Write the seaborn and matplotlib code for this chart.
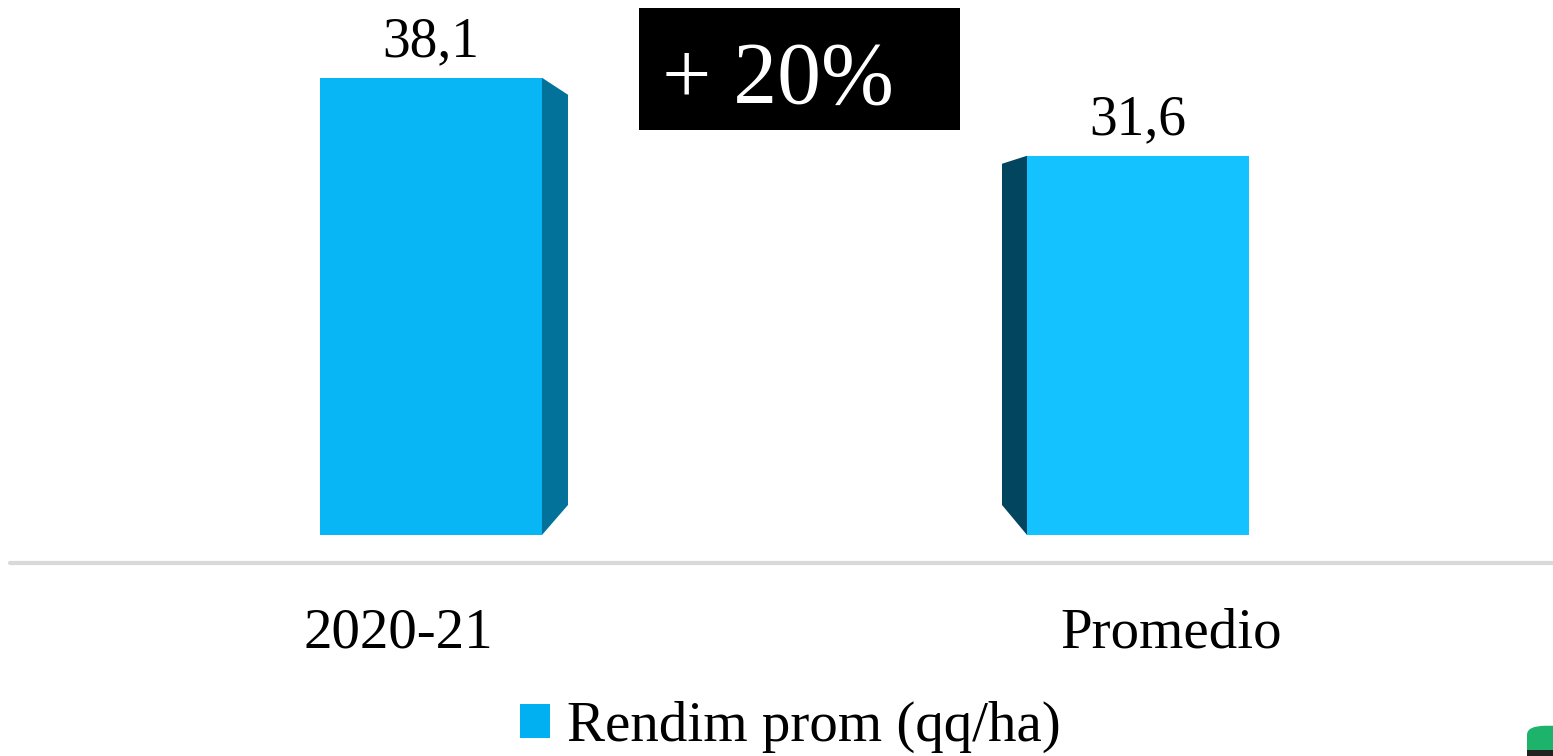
import pandas as pd
import seaborn as sns
import matplotlib.pyplot as plt
from matplotlib.patches import Polygon, Patch, Rectangle, FancyBboxPatch

# datos
categorias = ['2020-21', 'Promedio']
rendimiento = [38.1, 31.6]
etiquetas_valor = ['38,1', '31,6']
serie = 'Rendim prom (qq/ha)'

sns.set_style('white')
plt.rcParams['font.family'] = ['Liberation Serif', 'DejaVu Serif']
plt.rcParams['text.color'] = 'black'

fig = plt.figure(figsize=(15.53, 7.56), dpi=100)
ax = fig.add_axes([0, 0, 1, 1])

df = pd.DataFrame({'cat': categorias, 'val': rendimiento})
sns.barplot(data=df, x='cat', y='val', hue='cat', palette=['#08B5F5', '#14C2FF'],
            width=0.314, saturation=1, legend=False, ax=ax)

ax.set_xlim(-0.6096, 1.587)
ax.set_ylim(-18.42, 44.58)
ax.axis('off')

px_x = 1 / 707   # una unidad de pixel en x
px_y = 1 / 12    # una unidad de pixel en y

bars = sorted(ax.patches, key=lambda p: p.get_x())
for i, p in enumerate(bars):
    p.set_edgecolor('none')
    x0, x1, h = p.get_x(), p.get_x() + p.get_width(), p.get_height()
    # cara lateral (efecto 3D)
    if i == 0:
        pts = [(x1, h), (x1 + 26 * px_x, h - 17 * px_y), (x1 + 26 * px_x, 30 * px_y), (x1, 0)]
        col = '#03729A'
    else:
        pts = [(x0, h), (x0 - 25 * px_x, h - 8 * px_y), (x0 - 25 * px_x, 30 * px_y), (x0, 0)]
        col = '#02455F'
    ax.add_patch(Polygon(pts, closed=True, facecolor=col, edgecolor='none'))
    ax.text((x0 + x1) / 2, h + 21 * px_y, etiquetas_valor[i], ha='center', va='baseline',
            fontsize=40, color='black')

# linea base
ax.axhline(-28 * px_y, xmin=10 / 1553, xmax=1, color='#D9D9D9', lw=3)

# etiquetas de categoria
for i, c in enumerate(categorias):
    off = -0.0467 if i == 0 else 0.0467
    ax.text(i + off, -113 * px_y, c, ha='center', va='baseline', fontsize=41, color='black')

# caja +20%
fig.patches.append(Rectangle((639 / 1553, 626 / 756), 321 / 1553, 122 / 756,
                             transform=fig.transFigure, facecolor='black', edgecolor='none'))
fig.text(662 / 1553, 653 / 756, '+ 20%', color='white', fontsize=63, ha='left', va='baseline')

# leyenda
leg = ax.legend(handles=[Patch(facecolor='#00B0F0', edgecolor='none')], labels=[serie],
                loc='center', bbox_to_anchor=(0.509, 0.038), bbox_transform=fig.transFigure,
                frameon=False, fontsize=41, handlelength=0.52, handleheight=0.52,
                handletextpad=0.3, borderpad=0)
for t in leg.get_texts():
    t.set_color('black')

# esquina verde
fig.patches.append(FancyBboxPatch((1527 / 1553, -0.02), 0.05, 0.06,
                                  boxstyle='round,pad=0,rounding_size=0.012',
                                  transform=fig.transFigure, facecolor='#1DB36B', edgecolor='none'))
fig.patches.append(Rectangle((1527 / 1553, 0), 0.02, 6 / 756,
                             transform=fig.transFigure, facecolor='#222222', edgecolor='none'))

fig.savefig('out.png', dpi=100)
